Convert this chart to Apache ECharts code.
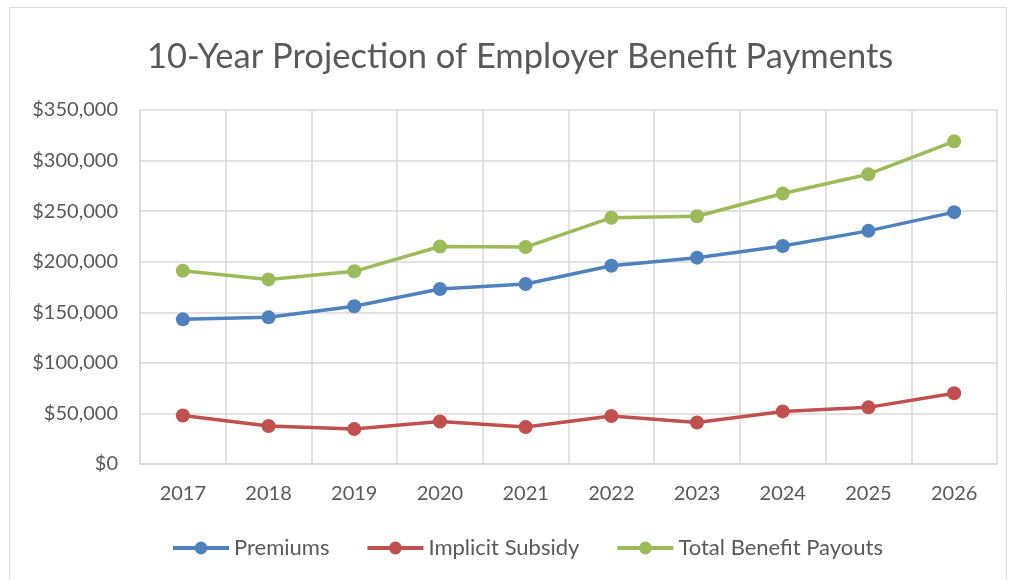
<!DOCTYPE html>
<html>
<head>
<meta charset="utf-8">
<script src="https://cdn.jsdelivr.net/npm/echarts@6/dist/echarts.min.js"></script>
<style>
  html, body { margin: 0; padding: 0; background: #fff; }
  #main { width: 1012px; height: 580px; }
</style>
</head>
<body>
<div id="main"></div>
<script>
// data
var years = ['2017', '2018', '2019', '2020', '2021', '2022', '2023', '2024', '2025', '2026'];
var premiums = [143000, 145000, 156000, 173000, 178000, 196000, 204000, 215500, 230500, 249000];
var implicitSubsidy = [48000, 37500, 34500, 42000, 36500, 47500, 41000, 52000, 56000, 70000];
var totalPayouts = [191000, 182500, 190500, 215000, 214500, 243500, 245000, 267500, 286500, 319000];

var font = 'Lato, "Liberation Sans", sans-serif';
var labelColor = '#595959';

var chart = echarts.init(document.getElementById('main'));

function lineSeries(name, data, color) {
  return {
    name: name,
    type: 'line',
    data: data,
    symbol: 'circle',
    symbolSize: 14,
    lineStyle: { width: 3.5, color: color },
    itemStyle: { color: color },
    emphasis: { disabled: true }
  };
}

var option = {
  animation: false,
  textStyle: { fontFamily: font },
  title: {
    text: '10-Year Projection of Employer Benefit Payments',
    left: 142,
    top: 34,
    textStyle: { fontFamily: font, fontSize: 34.5, fontWeight: 'normal', color: labelColor }
  },
  graphic: [{
    type: 'rect',
    shape: { x: 9.5, y: 7.5, width: 997, height: 580 },
    style: { fill: 'none', stroke: '#d9d9d9', lineWidth: 1 },
    silent: true
  }],
  legend: {
    bottom: 16,
    left: 166,
    itemWidth: 56,
    itemHeight: 16,
    itemGap: 36,
    lineStyle: { width: 4 },
    textStyle: { fontFamily: font, fontSize: 22, color: labelColor },
    data: ['Premiums', 'Implicit Subsidy', 'Total Benefit Payouts']
  },
  grid: { left: 140, right: 15, top: 110, bottom: 116 },
  xAxis: {
    type: 'category',
    data: years,
    boundaryGap: true,
    axisLine: { lineStyle: { color: '#d9d9d9', width: 1.5 } },
    axisTick: { show: false },
    splitLine: { show: true, lineStyle: { color: '#d9d9d9', width: 1.5 } },
    axisLabel: { fontFamily: font, fontSize: 20, color: labelColor, margin: 20 }
  },
  yAxis: {
    type: 'value',
    min: 0,
    max: 350000,
    interval: 50000,
    axisLine: { show: true, lineStyle: { color: '#d9d9d9', width: 1.5 } },
    axisTick: { show: false },
    splitLine: { lineStyle: { color: '#d9d9d9', width: 1.5 } },
    axisLabel: {
      fontFamily: font, fontSize: 20, color: labelColor, margin: 22,
      formatter: function (v) { return '$' + v.toLocaleString('en-US'); }
    }
  },
  series: [
    lineSeries('Premiums', premiums, '#4f81bd'),
    lineSeries('Implicit Subsidy', implicitSubsidy, '#c0504d'),
    lineSeries('Total Benefit Payouts', totalPayouts, '#9bbb59')
  ]
};

chart.setOption(option);
</script>
</body>
</html>
